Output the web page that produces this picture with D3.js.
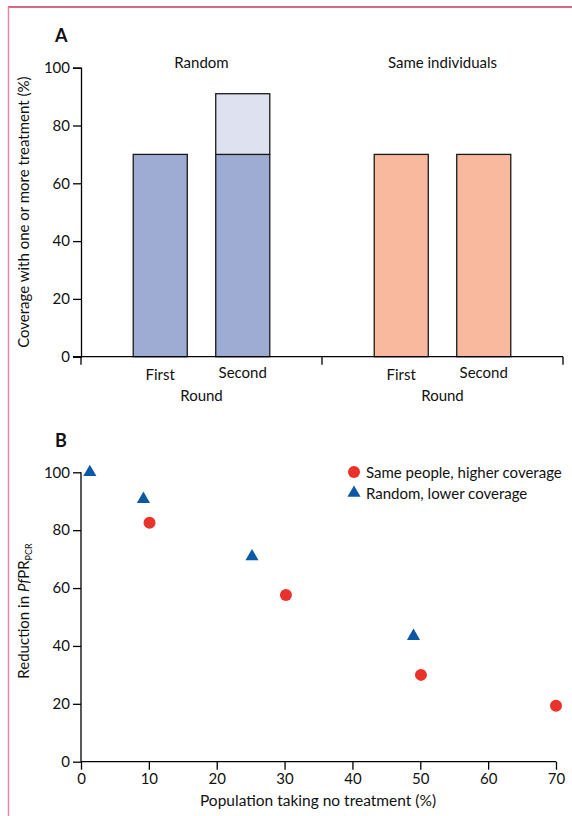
<!DOCTYPE html>
<html>
<head>
<meta charset="utf-8">
<script src="https://cdn.jsdelivr.net/npm/d3@7"></script>
<style>
  body { margin: 0; background: #fff; }
  svg { display: block; font-family: Lato, "Open Sans", sans-serif; }
</style>
</head>
<body>
<div id="chart"></div>
<script>
// panel A data
const groups = ["Random", "Same individuals"];
const rounds = ["First", "Second"];
const randomBase = [70, 70];
const randomExtra = [0, 21];
const sameBase = [70, 70];
const yTicksA = [0, 20, 40, 60, 80, 100];

// panel B data
const samePeopleX = [10.1, 30.2, 50.1, 70];
const samePeopleY = [82.6, 57.6, 30.0, 19.3];
const randomX = [1.3, 9.2, 25.2, 49.0];
const randomY = [100, 90.7, 70.9, 43.4];
const xTicksB = [0, 10, 20, 30, 40, 50, 60, 70];
const yTicksB = [0, 20, 40, 60, 80, 100];
const legendLabels = ["Same people, higher coverage", "Random, lower coverage"];

const W = 572, H = 816;
const blue = "#9eacd4", lightBlue = "#dee1f0", salmon = "#f8b99e";
const red = "#e8322a", darkBlue = "#0b58a5";
const ink = "#111";
const fs = "15px";

const svg = d3.select("#chart").append("svg")
    .attr("width", W).attr("height", H);

// frame
svg.append("line").attr("x1", 8).attr("x2", W).attr("y1", 7).attr("y2", 7)
    .style("stroke", "#c8375a").style("stroke-width", 1.5);
svg.append("line").attr("x1", 8.5).attr("x2", 8.5).attr("y1", 7).attr("y2", H)
    .style("stroke", "#e388a4").style("stroke-width", 1.5);

// ---------- Panel A ----------
const yA = d3.scaleLinear().domain([0, 100]).range([356.7, 67.7]);
const groupScale = d3.scaleBand().domain(groups).range([81, 563]);
const roundScale = d3.scaleBand().domain(rounds)
    .range([0, groupScale.bandwidth()])
    .paddingInner(0.345).paddingOuter(0.633);

svg.append("text").attr("x", 55).attr("y", 42)
    .style("font-size", "18px").style("font-weight", "bold").style("fill", ink).text("A");

const gA = svg.append("g");

const barData = [];
rounds.forEach((r, i) => {
    barData.push({ g: groups[0], r: r, y0: 0, y1: randomBase[i], fill: blue });
    if (randomExtra[i] > 0)
        barData.push({ g: groups[0], r: r, y0: randomBase[i], y1: randomBase[i] + randomExtra[i], fill: lightBlue });
    barData.push({ g: groups[1], r: r, y0: 0, y1: sameBase[i], fill: salmon });
});

gA.selectAll("rect.bar").data(barData).enter().append("rect")
    .attr("class", "bar")
    .attr("x", d => groupScale(d.g) + roundScale(d.r))
    .attr("width", roundScale.bandwidth())
    .attr("y", d => yA(d.y1))
    .attr("height", d => yA(d.y0) - yA(d.y1))
    .style("fill", d => d.fill)
    .style("stroke", "#1a1a1a").style("stroke-width", 1.3);

// y axis A
const yAxisA = gA.append("g").attr("transform", "translate(81,0)")
    .call(d3.axisLeft(yA).tickValues(yTicksA).tickSize(8).tickPadding(3));
// x axis A with group boundary ticks
const xAxisA = gA.append("g").attr("transform", "translate(0," + yA(0) + ")")
    .call(d3.axisBottom(groupScale).tickSize(0).tickFormat(""));
xAxisA.select(".domain").attr("d", "M73,0H563");
xAxisA.selectAll(".bound").data([81, groupScale(groups[1]), 563]).enter().append("line")
    .attr("class", "bound")
    .attr("x1", d => d).attr("x2", d => d).attr("y1", 0).attr("y2", 8)
    .style("stroke", "#000").style("stroke-width", 1.3);

[yAxisA, xAxisA].forEach(a => {
    a.selectAll(".domain, line").style("stroke", "#000").style("stroke-width", 1.3);
    a.selectAll("text").style("font-size", fs).style("fill", ink)
        .style("font-family", "Lato, sans-serif");
});

// group titles and round labels
groups.forEach(g => {
    const cx = groupScale(g) + groupScale.bandwidth() / 2;
    gA.append("text").attr("x", cx).attr("y", 68).attr("text-anchor", "middle")
        .style("font-size", fs).style("fill", ink).text(g);
    rounds.forEach((r, i) => {
        gA.append("text")
            .attr("x", groupScale(g) + roundScale(r) + roundScale.bandwidth() / 2)
            .attr("y", i === 0 ? 380 : 378).attr("text-anchor", "middle")
            .style("font-size", fs).style("fill", ink).text(r);
    });
    gA.append("text").attr("x", cx).attr("y", 401).attr("text-anchor", "middle")
        .style("font-size", fs).style("fill", ink).text("Round");
});

gA.append("text")
    .attr("transform", "translate(29," + ((yA(0) + yA(100)) / 2) + ")rotate(-90)")
    .attr("text-anchor", "middle")
    .style("font-size", fs).style("fill", ink)
    .text("Coverage with one or more treatment (%)");

// ---------- Panel B ----------
const xB = d3.scaleLinear().domain([0, 70]).range([81, 556]);
const yB = d3.scaleLinear().domain([0, 100]).range([761.7, 472.3]);

svg.append("text").attr("x", 55).attr("y", 447)
    .style("font-size", "18px").style("font-weight", "bold").style("fill", ink).text("B");

const gB = svg.append("g");
const yAxisB = gB.append("g").attr("transform", "translate(81,0)")
    .call(d3.axisLeft(yB).tickValues(yTicksB).tickSize(8).tickPadding(3));
const xAxisB = gB.append("g").attr("transform", "translate(0," + yB(0) + ")")
    .call(d3.axisBottom(xB).tickValues(xTicksB).tickSize(8).tickPadding(4));
xAxisB.select(".domain").attr("d", "M81,0H556");
yAxisB.select(".domain").attr("d", "M0," + yB(100) + "V" + yB(0));

[yAxisB, xAxisB].forEach(a => {
    a.selectAll(".domain, line").style("stroke", "#000").style("stroke-width", 1.3);
    a.selectAll("text").style("font-size", fs).style("fill", ink)
        .style("font-family", "Lato, sans-serif");
});

gB.append("text").attr("x", 318).attr("y", 806).attr("text-anchor", "middle")
    .style("font-size", "15.5px").style("fill", ink)
    .text("Population taking no treatment (%)");

const yLabB = gB.append("text")
    .attr("transform", "translate(29,611)rotate(-90)")
    .attr("text-anchor", "middle")
    .style("font-size", fs).style("fill", ink);
yLabB.append("tspan").text("Reduction in ");
yLabB.append("tspan").style("font-style", "italic").text("Pf");
yLabB.append("tspan").text("PR");
yLabB.append("tspan").attr("dy", 3).style("font-size", "9px").text("PCR");

// points
const tri = d3.symbol().type(d3.symbolTriangle).size(75);
gB.selectAll("path.rand").data(randomX.map((x, i) => [x, randomY[i]])).enter()
    .append("path").attr("class", "rand")
    .attr("transform", d => "translate(" + xB(d[0]) + "," + yB(d[1]) + ")")
    .attr("d", tri).style("fill", darkBlue);
gB.selectAll("circle.same").data(samePeopleX.map((x, i) => [x, samePeopleY[i]])).enter()
    .append("circle").attr("class", "same")
    .attr("cx", d => xB(d[0])).attr("cy", d => yB(d[1])).attr("r", 6)
    .style("fill", red);

// legend
const leg = gB.append("g").attr("transform", "translate(354,472)");
leg.append("circle").attr("r", 6).style("fill", red);
leg.append("path").attr("transform", "translate(0,21)").attr("d", tri).style("fill", darkBlue);
legendLabels.forEach((t, i) => {
    leg.append("text").attr("x", 12).attr("y", 5.5 + i * 21)
        .style("font-size", "15px").style("fill", ink).text(t);
});
</script>
</body>
</html>
